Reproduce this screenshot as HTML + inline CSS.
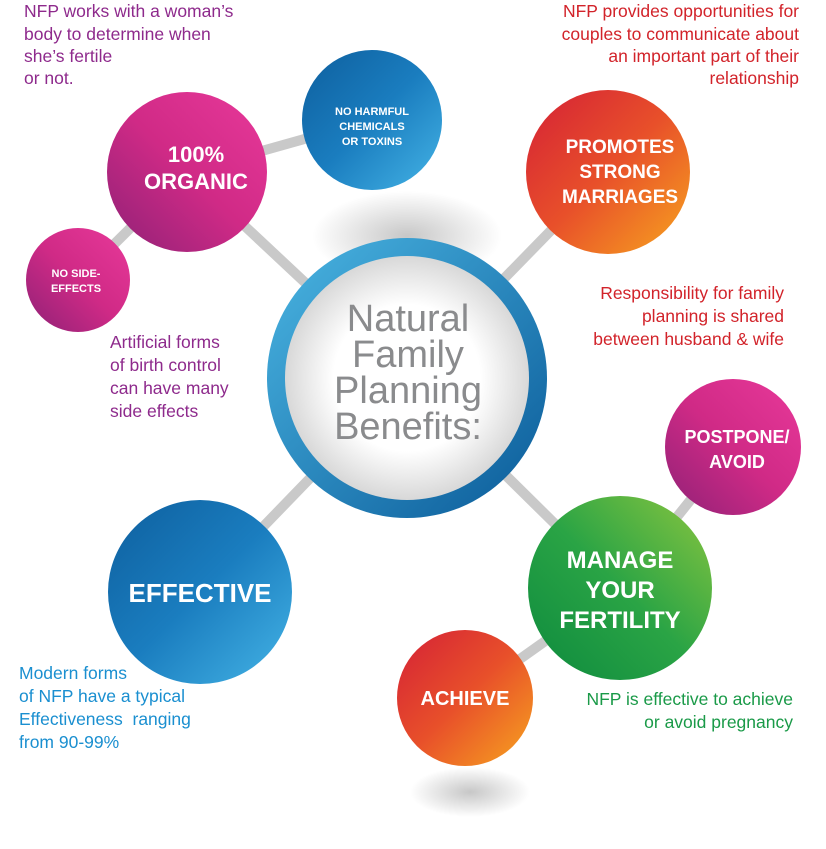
<!DOCTYPE html>
<html><head><meta charset="utf-8"><style>
html,body{margin:0;padding:0;background:#fff;}
svg{display:block;font-family:"Liberation Sans",Arial,sans-serif;}
</style></head><body>
<svg width="826" height="849" viewBox="0 0 826 849" xmlns="http://www.w3.org/2000/svg">
<defs>
<linearGradient id="mag" x1="1" y1="0" x2="0" y2="1"><stop offset="0" stop-color="#e8399a"/><stop offset="0.5" stop-color="#d02a86"/><stop offset="1" stop-color="#8e2176"/></linearGradient>
<linearGradient id="blue" x1="0" y1="0" x2="1" y2="1"><stop offset="0" stop-color="#0e5f9e"/><stop offset="0.5" stop-color="#1a7dbf"/><stop offset="1" stop-color="#45b4e6"/></linearGradient>
<linearGradient id="ring" x1="0" y1="0" x2="1" y2="1"><stop offset="0" stop-color="#4bb6e3"/><stop offset="1" stop-color="#0a5a98"/></linearGradient>
<linearGradient id="red" x1="0" y1="0" x2="1" y2="1"><stop offset="0" stop-color="#d42036"/><stop offset="0.5" stop-color="#e8502a"/><stop offset="1" stop-color="#f7a51f"/></linearGradient>
<linearGradient id="green" x1="0" y1="1" x2="1" y2="0"><stop offset="0" stop-color="#0d8a3e"/><stop offset="0.5" stop-color="#2aa445"/><stop offset="1" stop-color="#8cc63f"/></linearGradient>
<radialGradient id="inner" cx="0.5" cy="0.5" r="0.5"><stop offset="0.6" stop-color="#ffffff"/><stop offset="1" stop-color="#d8d8d8"/></radialGradient>
<radialGradient id="shadow" cx="0.5" cy="0.5" r="0.5"><stop offset="0" stop-color="#000" stop-opacity="0.22"/><stop offset="1" stop-color="#000" stop-opacity="0"/></radialGradient>
</defs>
<g stroke="#c9c9c9" stroke-width="10">
<line x1="187" y1="172" x2="407" y2="378"/>
<line x1="187" y1="172" x2="372" y2="120"/>
<line x1="187" y1="172" x2="78" y2="280"/>
<line x1="608" y1="172" x2="407" y2="378"/>
<line x1="200" y1="592" x2="407" y2="378"/>
<line x1="620" y1="588" x2="407" y2="378"/>
<line x1="620" y1="588" x2="733" y2="447"/>
<line x1="620" y1="588" x2="465" y2="698"/>
</g>
<ellipse cx="407" cy="236" rx="95" ry="45" fill="url(#shadow)"/>
<ellipse cx="470" cy="792" rx="60" ry="25" fill="url(#shadow)"/>
<circle cx="407" cy="378" r="140" fill="url(#ring)"/>
<circle cx="407" cy="378" r="122" fill="url(#inner)"/>
<g fill="#8a8b8d" font-size="38" text-anchor="middle">
<text x="408" y="331">Natural</text>
<text x="408" y="367">Family</text>
<text x="408" y="403">Planning</text>
<text x="408" y="439">Benefits:</text>
</g>
<circle cx="187" cy="172" r="80" fill="url(#mag)"/>
<circle cx="372" cy="120" r="70" fill="url(#blue)"/>
<circle cx="78" cy="280" r="52" fill="url(#mag)"/>
<circle cx="608" cy="172" r="82" fill="url(#red)"/>
<circle cx="733" cy="447" r="68" fill="url(#mag)"/>
<circle cx="620" cy="588" r="92" fill="url(#green)"/>
<circle cx="465" cy="698" r="68" fill="url(#red)"/>
<circle cx="200" cy="592" r="92" fill="url(#blue)"/>
<g fill="#fff" font-weight="bold" text-anchor="middle">
<text x="196" y="162" font-size="22">100%</text>
<text x="196" y="189" font-size="22">ORGANIC</text>
<text x="372" y="115" font-size="11">NO HARMFUL</text>
<text x="372" y="130" font-size="11">CHEMICALS</text>
<text x="372" y="145" font-size="11">OR TOXINS</text>
<text x="76" y="277" font-size="11">NO SIDE-</text>
<text x="76" y="292" font-size="11">EFFECTS</text>
<text x="620" y="153" font-size="19">PROMOTES</text>
<text x="620" y="178" font-size="19">STRONG</text>
<text x="620" y="203" font-size="19">MARRIAGES</text>
<text x="737" y="443" font-size="18">POSTPONE/</text>
<text x="737" y="468" font-size="18">AVOID</text>
<text x="620" y="568" font-size="24">MANAGE</text>
<text x="620" y="598" font-size="24">YOUR</text>
<text x="620" y="628" font-size="24">FERTILITY</text>
<text x="465" y="705" font-size="20">ACHIEVE</text>
<text x="200" y="602" font-size="26">EFFECTIVE</text>
</g>
<g font-size="17.5">
<g fill="#8e2a8c">
<text x="24" y="17">NFP works with a woman’s</text>
<text x="24" y="40">body to determine when</text>
<text x="24" y="62">she’s fertile</text>
<text x="24" y="84">or not.</text>
<text x="110" y="348">Artificial forms</text>
<text x="110" y="371">of birth control</text>
<text x="110" y="394">can have many</text>
<text x="110" y="417">side effects</text>
</g>
<g fill="#d2232a" text-anchor="end">
<text x="799" y="17">NFP provides opportunities for</text>
<text x="799" y="40">couples to communicate about</text>
<text x="799" y="62">an important part of their</text>
<text x="799" y="84">relationship</text>
<text x="784" y="299">Responsibility for family</text>
<text x="784" y="322">planning is shared</text>
<text x="784" y="345">between husband &amp; wife</text>
</g>
<g fill="#1a8fd0">
<text x="19" y="679">Modern forms</text>
<text x="19" y="702">of NFP have a typical</text>
<text x="19" y="725" xml:space="preserve">Effectiveness  ranging</text>
<text x="19" y="748">from 90-99%</text>
</g>
<g fill="#1a9a48" text-anchor="end">
<text x="793" y="705">NFP is effective to achieve</text>
<text x="793" y="728">or avoid pregnancy</text>
</g>
</g>
</svg>
</body></html>
